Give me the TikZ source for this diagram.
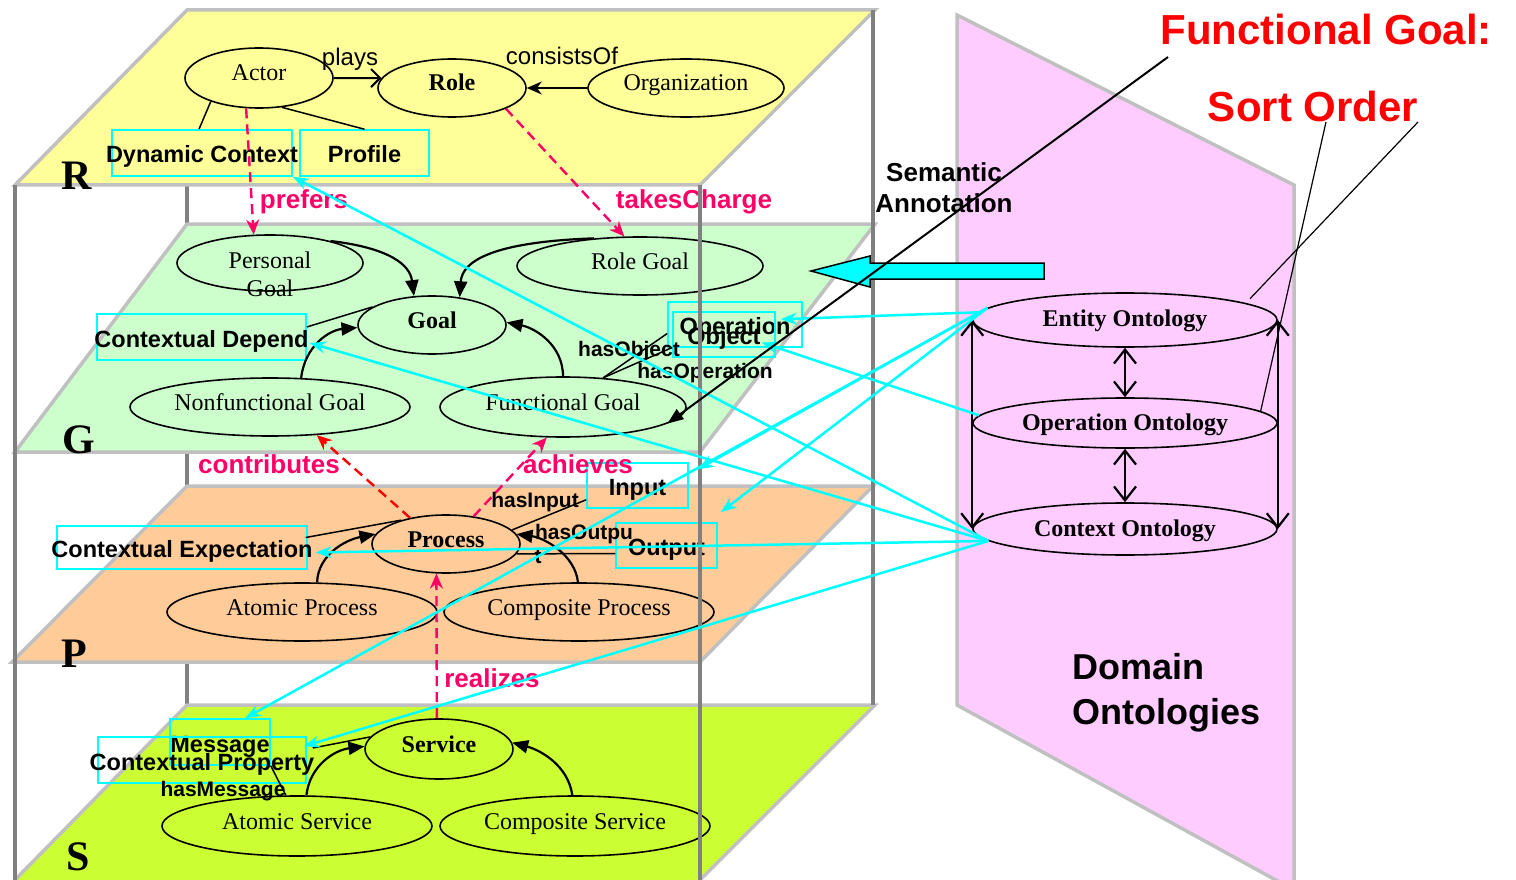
\documentclass[tikz,border=0pt]{standalone}
\usepackage{fontspec}
\setmainfont{Liberation Serif}
\newfontfamily\arial{Liberation Sans}
\usetikzlibrary{arrows.meta,shapes.geometric,calc}
\definecolor{ryel}{HTML}{FFFF99}
\definecolor{ggreen}{HTML}{CCFFCC}
\definecolor{porange}{HTML}{FFCC99}
\definecolor{slime}{HTML}{CCFF33}
\definecolor{opink}{HTML}{FFCCFF}
\definecolor{edgegray}{HTML}{C0C0C0}
\definecolor{postgray}{HTML}{808080}
\definecolor{hot}{HTML}{FF0066}
\definecolor{cyanc}{HTML}{00FFFF}
\newcommand\ellfont{\fontsize{24}{28}\selectfont}
\newcommand\boxfont{\arial\bfseries\fontsize{23.5}{27}\selectfont}
\newcommand\pinkfont{\arial\bfseries\fontsize{26}{30}\selectfont}
\newcommand\lblfont{\arial\bfseries\fontsize{21}{24}\selectfont}
\newcommand\relfont{\arial\fontsize{24}{28}\selectfont}
\newcommand\layerfont{\bfseries\fontsize{42}{46}\selectfont}
\newcommand\elltext[2][-3pt]{\raisebox{#1}[0pt][0pt]{\makebox[0pt]{#2}}}
\newcommand\boxtext[1]{\raisebox{-10pt}[0pt][0pt]{\makebox[0pt]{#1}}}
\tikzset{
  ell/.style={ellipse, draw=black, line width=1.6pt, inner sep=0pt, font=\ellfont},
  cbox/.style={rectangle, draw=cyanc, line width=1.5pt, inner sep=0pt, font=\boxfont},
  plane/.style={draw=edgegray, line width=3.5pt, line join=miter},
  post/.style={draw=postgray, line width=3.5pt},
  blk/.style={draw=black, line width=1.5pt},
  curvarr/.style={draw=black, line width=2.2pt, -{Triangle[length=16pt,width=13pt]}},
  pinkarr/.style={draw=hot, line width=2.4pt, dash pattern=on 10pt off 6pt, -{Stealth[length=15pt,width=13pt]}},
  cyarr/.style={draw=cyanc, line width=2.5pt, -{Stealth[length=16pt,width=12pt]}},
  dbl/.style={draw=black, line width=2.2pt, {Straight Barb[length=14pt,width=22pt]}-{Straight Barb[length=14pt,width=22pt]}},
  plbl/.style={text=hot, font=\pinkfont, inner sep=0pt},
  slbl/.style={font=\lblfont, inner sep=0pt},
  rlbl/.style={font=\relfont, inner sep=0pt},
  layer/.style={font=\layerfont, inner sep=0pt},
  redtitle/.style={text=red, font=\arial\bfseries\fontsize{42}{48}\selectfont, inner sep=0pt}
}
\begin{document}
\begin{tikzpicture}[x=1pt,y=-1pt]
\useasboundingbox (0,0) rectangle (1516,880);
% back post
\draw[post] (187,185) -- (187,880);
% planes
\path[plane, fill=ryel] (187,10) -- (875,10) -- (700,185) -- (15,185) -- cycle;
\path[plane, fill=ggreen] (187,224) -- (875,224) -- (700,452) -- (15,452) -- cycle;
\path[plane, fill=porange] (187,486) -- (873,486) -- (700,662) -- (12,662) -- cycle;
\path[plane, fill=slime] (187,705) -- (875,705) -- (690,890) -- (5,890) -- cycle;
\path[plane, fill=opink] (957,15) -- (1294,185) -- (1294,890) -- (957,705) -- cycle;

% R layer
\node[ell, fill=ryel, minimum width=148pt, minimum height=60pt] (actor) at (259,78) {\elltext{Actor}};
\node[ell, fill=ryel, minimum width=148pt, minimum height=58pt] (role) at (452,88) {\elltext{\bfseries Role}};
\node[ell, fill=ryel, minimum width=196pt, minimum height=58pt] (org) at (686,88) {\elltext{Organization}};
\node[cbox, minimum width=180pt, minimum height=46pt] (dc) at (202,153) {\boxtext{Dynamic Context}};
\node[cbox, minimum width=129pt, minimum height=46pt] (prof) at (364.5,153) {\boxtext{Profile}};
\node[layer] (lr) at (77,176) {R};

% G layer
\node[ell, fill=ggreen, minimum width=186pt, minimum height=56pt] (pg) at (270,263)
  {\makebox[0pt]{\raisebox{-5pt}[0pt][0pt]{\makebox[0pt]{Personal}}\raisebox{-33pt}[0pt][0pt]{\makebox[0pt]{Goal}}}};
\node[ell, fill=ggreen, minimum width=148pt, minimum height=58pt] (goal) at (432,325) {\elltext{\bfseries Goal}};
\node[ell, fill=ggreen, minimum width=246pt, minimum height=58pt] (rg) at (640,266) {\elltext{Role Goal}};
\node[ell, fill=ggreen, minimum width=280pt, minimum height=58pt] (nf) at (270,407) {\elltext{Nonfunctional Goal}};
\node[ell, fill=ggreen, minimum width=246pt, minimum height=60pt] (fg) at (563,407) {\elltext{Functional Goal}};
\node[cbox, minimum width=209pt, minimum height=46pt] (cd) at (201.5,337) {\boxtext{Contextual Depend}};
\node[cbox, minimum width=134pt, minimum height=45pt] (op) at (735,324.5) {\boxtext{Operation}};
\node[cbox, minimum width=102pt, minimum height=45pt] (obj) at (724,334.5) {\boxtext{Object}};
\node[layer] (lg) at (79,440) {G};

% P layer
\node[ell, fill=porange, minimum width=148pt, minimum height=58pt] (proc) at (446,544) {\elltext{\bfseries Process}};
\node[ell, fill=porange, minimum width=270pt, minimum height=58pt] (ap) at (302,612) {\elltext{Atomic Process}};
\node[ell, fill=porange, minimum width=270pt, minimum height=58pt] (cpr) at (579,612) {\elltext{Composite Process}};
\node[cbox, minimum width=250pt, minimum height=43pt] (ce) at (182,547.5) {\boxtext{Contextual Expectation}};
\node[cbox, minimum width=101pt, minimum height=45pt] (inp) at (637.5,485.5) {\boxtext{Input}};
\node[cbox, minimum width=101pt, minimum height=45pt] (outp) at (666.5,545.5) {\boxtext{Output}};
\node[layer] (lp) at (74,654) {P};

% S layer
\node[ell, fill=slime, minimum width=148pt, minimum height=60pt] (serv) at (439,749) {\elltext{\bfseries Service}};
\node[ell, fill=slime, minimum width=270pt, minimum height=60pt] (as) at (297,826) {\elltext{Atomic Service}};
\node[ell, fill=slime, minimum width=270pt, minimum height=60pt] (cs) at (575,826) {\elltext{Composite Service}};
\node[cbox, minimum width=100pt, minimum height=46pt] (msg) at (220,742) {\boxtext{Message}};
\node[cbox, minimum width=208pt, minimum height=46pt] (cprop) at (202,760) {\boxtext{Contextual Property}};
\node[layer] (ls) at (78,857) {S};

% ontologies
\node[ell, fill=opink, minimum width=304pt, minimum height=54pt] (eo) at (1125,320) {\elltext[-6pt]{\bfseries Entity Ontology}};
\node[ell, fill=opink, minimum width=304pt, minimum height=50pt] (oo) at (1125,423) {\elltext[-7pt]{\bfseries Operation Ontology}};
\node[ell, fill=opink, minimum width=304pt, minimum height=52pt] (ctx) at (1125,529) {\elltext[-7pt]{\bfseries Context Ontology}};
\draw[dbl] (eo.south) -- (oo.north);
\draw[dbl] (oo.south) -- (ctx.north);
\draw[dbl] (eo.west) -- (ctx.west);
\draw[dbl] (eo.east) -- (ctx.east);

% black relations
\draw[blk, line width=2pt, -{Straight Barb[length=9pt,width=18pt]}] (actor.east) -- (role.172);
\draw[blk, line width=2pt, -{Stealth[length=15pt,width=13pt]}] (org.west) -- (role.east);
\draw[blk] (actor.206) -- ([xshift=-3pt]dc.north);
\draw[blk] (actor.308) -- (prof.north);
\draw[blk] ($(cd.east)+(0,-10)$) -- (goal.163);
\draw[blk] (fg.36) -- ($(op.west)+(0,9)$);
\draw[blk] (fg.36) -- ($(obj.west)+(0,13)$);
\draw[blk] ($(ce.east)+(-2,-10)$) -- (proc.152);
\draw[blk] (proc.12) -- ($(inp.south west)+(0,-9)$);
\draw[blk] (proc.352) -- ($(outp.west)+(0,8)$);
\draw[blk] ($(cprop.east)+(6,-12)$) -- (serv.170);
\draw[blk] (msg.south east) -- (as.110);

\draw[curvarr] (pg.20) .. controls (390,248) and (410,265) .. (goal.122);
\draw[curvarr] (rg.149) .. controls (490,242) and (462,262) .. (goal.45);
\draw[curvarr] (nf.43) .. controls (305,345) and (330,330) .. (goal.182);
\draw[curvarr] (fg.90) .. controls (563,345) and (535,328) .. (goal.2);
\draw[curvarr] (ap.63) .. controls (318,555) and (345,540) .. (proc.172);
\draw[curvarr] (cpr.92) .. controls (575,555) and (545,538) .. (proc.8);
\draw[curvarr] (as.73) .. controls (310,765) and (335,750) .. (serv.178);
\draw[curvarr] (cs.95) .. controls (568,765) and (540,750) .. (serv.5);

% dashed cross-layer relations
\draw[pinkarr] (actor.247) -- (pg.120);
\draw[pinkarr] (role.339) -- (rg.118);
\draw[pinkarr, draw=red] (proc.144) -- (nf.329);
\draw[pinkarr] (proc.45) -- (fg.242);
\draw[pinkarr] (serv.94) -- (proc.252);

% labels
\node[rlbl] (lplays) at (350,59) {plays};
\node[rlbl] (lcons) at (562,56) {consistsOf};
\node[plbl] (lpref) at (304,202) {prefers};
\node[plbl] (ltake) at (694,202) {takesCharge};
\node[plbl] (lcontr) at (269,464) {contributes};
\node[plbl] (lach) at (578,464) {achieves};
\node[plbl] (lreal) at (492,678) {realizes};
\node[slbl] (lhobj) at (629,351) {hasObject};
\node[slbl] (lhop) at (705,373) {hasOperation};
\node[slbl] (lhin) at (535,502) {hasInput};
\node[slbl] (lhout) at (584,534) {hasOutpu};
\node[slbl] (lhoutt) at (538,557) {t};
\node[slbl] (lhmsg) at (223,791) {hasMessage};

% front posts
\draw[post] (15,185) -- (15,880);
\draw[post] (700,185) -- (700,880);
\draw[post] (873,10) -- (873,705);

% titles
\node[redtitle] (fgt) at (1326,29) {Functional Goal:};
\node[redtitle] (sot) at (1313,106) {Sort Order};
\node[font=\arial\bfseries\fontsize{26}{31}\selectfont, align=center, anchor=north, inner sep=0pt] (sem) at (944,162) {Semantic\\Annotation};
\node[font=\arial\bfseries\fontsize{36}{45}\selectfont, align=left, anchor=north west, inner sep=0pt] (dom) at (1072,653) {Domain\\Ontologies};

% big annotation arrow
\draw[draw=black, line width=1.5pt, fill=cyanc] (811,271) -- (870,256) -- (870,263) -- (1044,263) -- (1044,279) -- (870,279) -- (870,287) -- cycle;

% cyan mappings
\draw[cyarr] (eo.177) -- ($(obj.north east)+(5,8)$);
\draw[cyarr] (oo.177) -- ($(obj.east)+(-14,8)$);
\draw[cyarr] (eo.175) -- ($(inp.north east)+(9,7)$);
\draw[cyarr] (eo.175) -- ($(msg.north)+(25,0)$);
\draw[cyarr] (eo.175) -- ($(outp.north east)+(3,-10)$);
\draw[cyarr] (ctx.185) -- (dc.south east);
\draw[cyarr] (ctx.185) -- ($(cd.east)+(3,6)$);
\draw[cyarr] (ctx.185) -- ($(ce.east)+(8,5)$);
\draw[cyarr] (ctx.185) -- ($(cprop.north east)+(-3,10)$);

% semantic annotation and sort order pointers
\coordinate (sastart) at (1168,57);
\draw[draw=black, line width=2pt, -{Triangle[length=16pt,width=12pt]}] (sastart) -- (fg.351);
\coordinate (so1) at (1326,122);
\coordinate (so2) at (1418,122);
\draw[draw=black, line width=1.2pt] (so1) -- (oo.5);
\draw[draw=black, line width=1.2pt, shorten >=6pt] (so2) -- (eo.8);
\end{tikzpicture}
\end{document}
